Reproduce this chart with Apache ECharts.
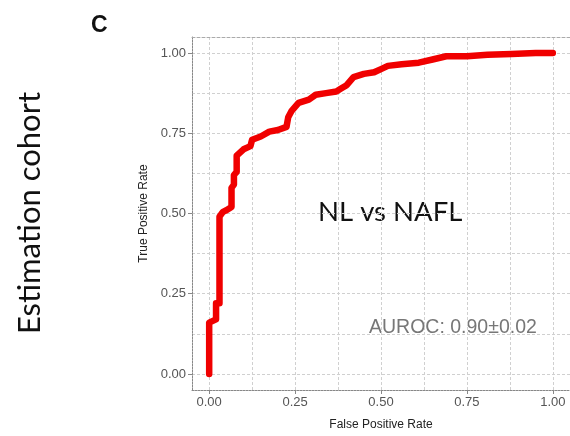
<!DOCTYPE html>
<html>
<head>
<meta charset="utf-8">
<script src="https://cdn.jsdelivr.net/npm/echarts@6/dist/echarts.min.js"></script>
<style>
html,body{margin:0;padding:0;background:#fff;}
#chart{width:570px;height:436px;}
</style>
</head>
<body>
<div id="chart"></div>
<script>
// ROC curve points (False Positive Rate, True Positive Rate)
const fpr = [0, 0, 0.02, 0.02, 0.03, 0.03, 0.04, 0.05, 0.065, 0.065, 0.072, 0.072, 0.08, 0.08, 0.10, 0.12, 0.125, 0.15, 0.175, 0.20, 0.225, 0.23, 0.24, 0.26, 0.29, 0.31, 0.34, 0.37, 0.385, 0.40, 0.42, 0.45, 0.48, 0.50, 0.52, 0.56, 0.61, 0.65, 0.69, 0.75, 0.81, 0.88, 0.95, 0.98, 1.0];
const tpr = [0, 0.16, 0.17, 0.22, 0.22, 0.49, 0.505, 0.51, 0.52, 0.58, 0.59, 0.62, 0.63, 0.68, 0.70, 0.71, 0.73, 0.74, 0.755, 0.76, 0.77, 0.80, 0.82, 0.845, 0.855, 0.87, 0.875, 0.88, 0.89, 0.90, 0.925, 0.935, 0.94, 0.95, 0.96, 0.965, 0.97, 0.98, 0.99, 0.99, 0.995, 0.997, 1.0, 1.0, 1.0];
const majorTicks = [0, 0.25, 0.5, 0.75, 1.0];
const minorTicks = [0.125, 0.375, 0.625, 0.875];
const panelLabel = 'C';
const cohortLabel = 'Estimation cohort';
const comparisonLabel = 'NL vs NAFL';
const aurocLabel = 'AUROC: 0.90\u00b10.02';
const xTitle = 'False Positive Rate';
const yTitle = 'True Positive Rate';

const chart = echarts.init(document.getElementById('chart'), null, {renderer: 'canvas'});
const gridLine = {show: true, lineStyle: {color: '#d0d0d0', type: [3, 2], width: 1}};
const tickFmt = v => v.toFixed(2);

const mainAxis = (name, pos, gap, rot) => ({
  type: 'value', min: -0.05, max: 1.05, position: pos,
  name: name, nameLocation: 'middle', nameGap: gap, nameRotate: rot,
  nameTextStyle: {color: '#222', fontSize: 12, fontFamily: 'Liberation Sans'},
  axisLine: {show: true, onZero: false, lineStyle: {color: '#888', type: [2, 1], width: 1}},
  axisTick: {show: true, length: 4, customValues: majorTicks, lineStyle: {color: '#888'}},
  axisLabel: {show: true, customValues: majorTicks, formatter: tickFmt, color: '#555', fontSize: 13, fontFamily: 'Liberation Sans', margin: 6},
  splitLine: gridLine
});
const minorAxis = (pos) => ({
  type: 'value', min: -0.05, max: 1.05, position: pos,
  axisLine: {show: true, onZero: false, lineStyle: {color: '#aaa', type: [3, 2], width: 1}},
  axisTick: {show: false, customValues: minorTicks},
  axisLabel: {show: false, customValues: minorTicks},
  splitLine: gridLine
});

chart.setOption({
  animation: false,
  backgroundColor: '#fff',
  grid: {left: 192, top: 37, right: -3, bottom: 45, containLabel: false},
  xAxis: [mainAxis(xTitle, 'bottom', 29, 0), minorAxis('top')],
  yAxis: [mainAxis(yTitle, 'left', 35, 90), minorAxis('right')],
  series: [{
    type: 'line',
    xAxisIndex: 0, yAxisIndex: 0,
    data: fpr.map((x, i) => [x, tpr[i]]),
    showSymbol: false,
    clip: false,
    lineStyle: {color: '#f00000', width: 6.5, join: 'round', cap: 'round'},
    itemStyle: {color: '#f00000'}
  }],
  graphic: [
    {type: 'text', left: 91, top: 14, style: {text: panelLabel, font: 'bold 23px "Liberation Sans"', fill: '#111'}},
    {type: 'text', x: 30, y: 213, rotation: Math.PI / 2,
     style: {text: cohortLabel, font: '31px Lato', fill: '#111', textAlign: 'center', textVerticalAlign: 'middle'}},
    {type: 'text', x: 318, y: 212, style: {text: comparisonLabel, font: '27.5px Lato', fill: '#111', textAlign: 'left', textVerticalAlign: 'middle'}},
    {type: 'text', x: 369, y: 328, style: {text: aurocLabel, font: '19.5px "Liberation Sans"', fill: '#777', textAlign: 'left', textVerticalAlign: 'middle'}}
  ]
});
</script>
</body>
</html>
